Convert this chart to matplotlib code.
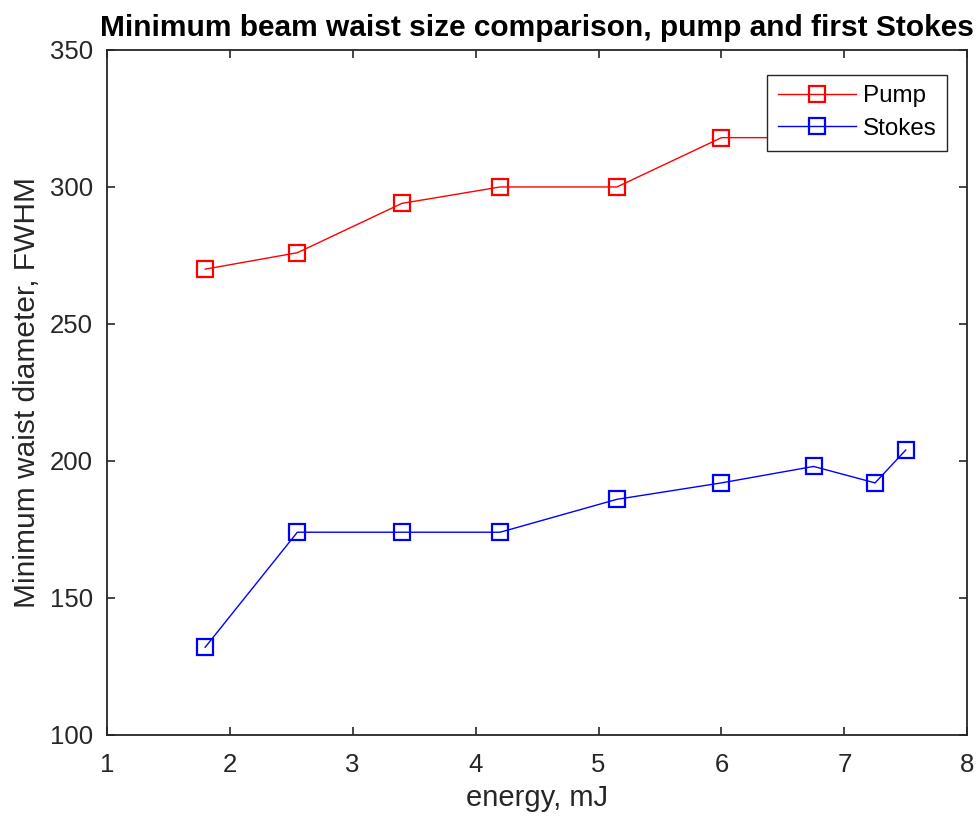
import numpy as np
import matplotlib
matplotlib.use('Agg')
import matplotlib.pyplot as plt
from matplotlib import font_manager

plt.rcParams['font.family'] = ['Liberation Sans', 'DejaVu Sans']

# energy values, mJ
energy_pump = [1.8, 2.55, 3.4, 4.2, 5.15, 6.0, 6.75, 7.25, 7.5]
waist_pump = [270, 276, 294, 300, 300, 318, 318, 324, 330]
energy_stokes = [1.8, 2.55, 3.4, 4.2, 5.15, 6.0, 6.75, 7.25, 7.5]
waist_stokes = [132, 174, 174, 174, 186, 192, 198, 192, 204]

names = {f.name for f in font_manager.fontManager.ttflist}
title_family = ['Liberation Sans Narrow'] if 'Liberation Sans Narrow' in names else ['Liberation Sans']

fig = plt.figure(figsize=(9.8, 8.19), dpi=100)
ax = fig.add_axes([0.109, 0.1026, 0.878, 0.8364])

ax.plot(energy_pump, waist_pump, '-s', color='red', lw=1, ms=12,
        mfc='none', mew=1.6, label='Pump')
ax.plot(energy_stokes, waist_stokes, '-s', color='blue', lw=1, ms=12,
        mfc='none', mew=1.6, label='Stokes')

ax.set_xlim(1, 8)
ax.set_ylim(100, 350)
ax.set_xticks(range(1, 9))
ax.set_yticks(range(100, 351, 50))
ax.tick_params(direction='in', top=True, right=True, labelsize=18.5,
               length=6, width=1.2, colors='#262626')
ax.tick_params(axis='x', pad=13)
ax.tick_params(axis='y', pad=10)
for s in ax.spines.values():
    s.set_linewidth(1.3)
    s.set_color('#262626')

ax.set_xlabel('energy, mJ', fontsize=21, color='#262626', labelpad=5)
ax.set_ylabel('Minimum waist diameter, FWHM', fontsize=21.5, color='#262626',
              labelpad=6)
ax.set_title('Minimum beam waist size comparison, pump and first Stokes',
             fontsize=21.5, fontweight='bold', family=title_family, pad=10)

leg = ax.legend(loc='upper right', bbox_to_anchor=(0.977, 0.964), fontsize=17.4,
                fancybox=False, edgecolor='#262626', framealpha=1,
                handlelength=3.2, handletextpad=0.3, labelspacing=0.42,
                borderpad=0.45, borderaxespad=0)
leg.get_frame().set_linewidth(1)

fig.savefig('out.png', dpi=100)
